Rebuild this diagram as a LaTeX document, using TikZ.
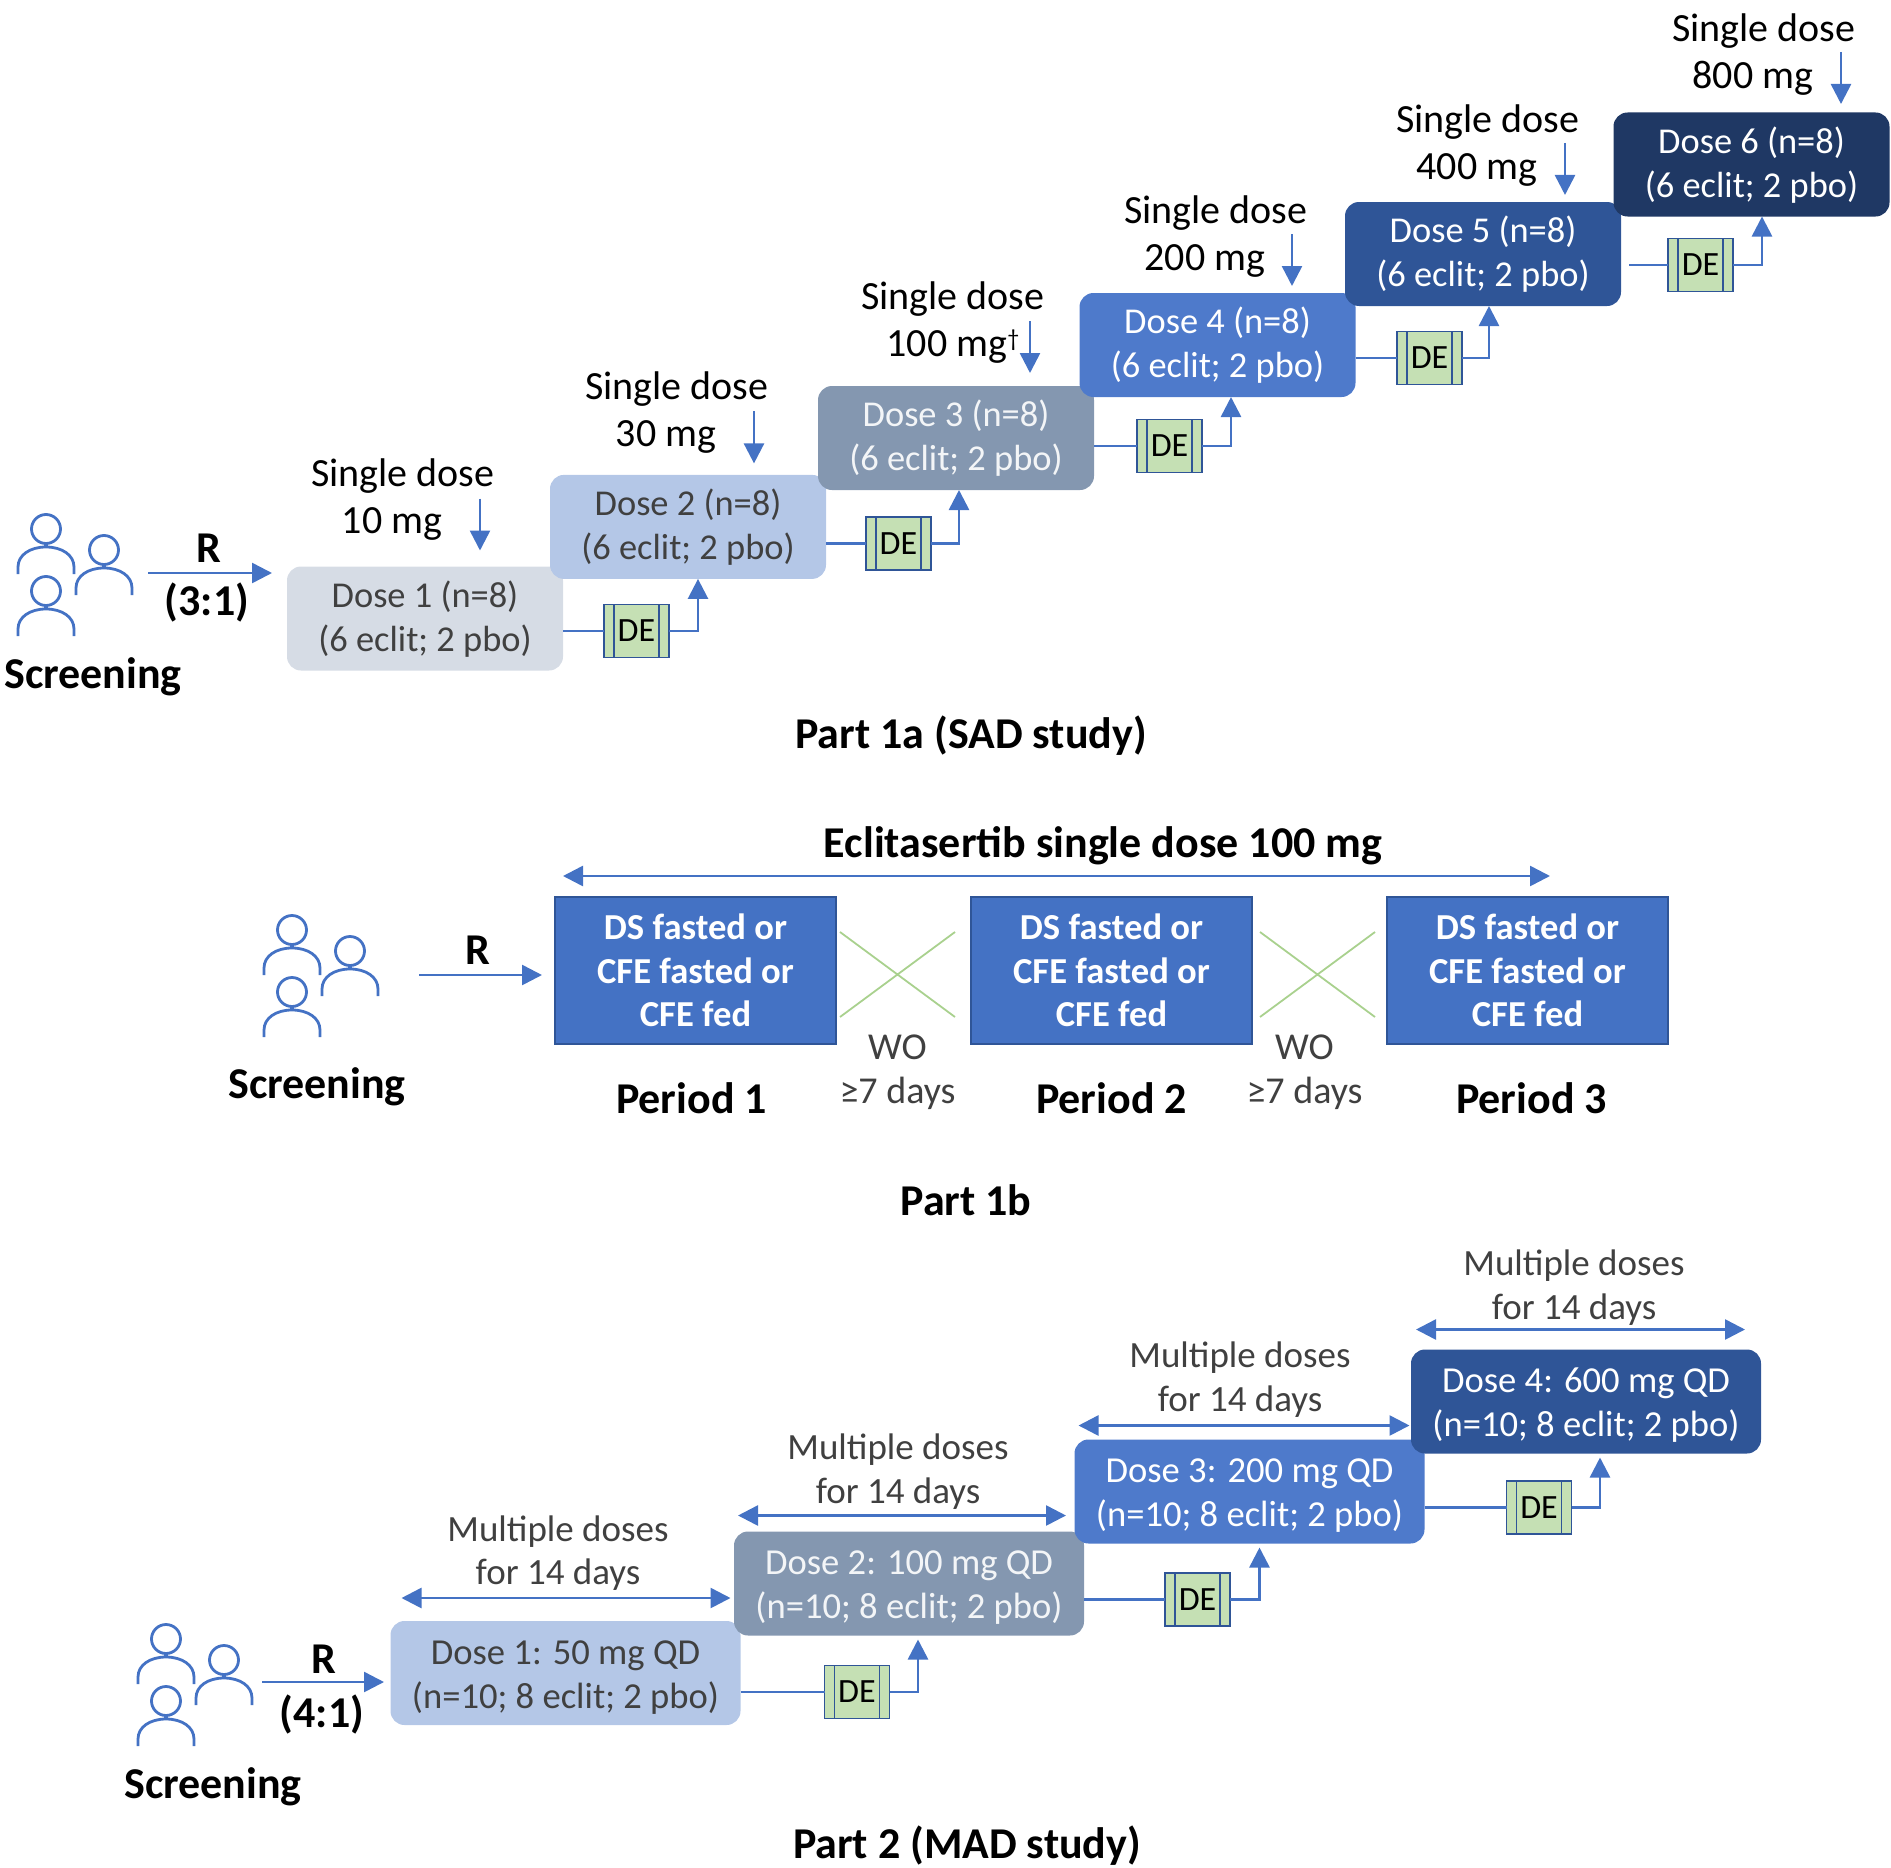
\documentclass[tikz,border=0pt]{standalone}
\usepackage{fontspec}
\setmainfont{Carlito}
\usepackage{tikz}
\usetikzlibrary{arrows.meta}
\usetikzlibrary{positioning}
\usetikzlibrary{shapes.misc}

\definecolor{lineblue}{HTML}{4472C4}
\definecolor{doseA}{HTML}{D6DCE5}
\definecolor{doseB}{HTML}{B4C7E7}
\definecolor{doseC}{HTML}{8497B0}
\definecolor{doseD}{HTML}{4E7ACB}
\definecolor{doseE}{HTML}{2F5597}
\definecolor{doseF}{HTML}{1F3864}
\definecolor{greyink}{HTML}{404040}
\definecolor{deboxfill}{HTML}{C5E0B4}
\definecolor{crossgreen}{HTML}{A9D18E}

\tikzset{
    dosebox/.style={rounded corners=7pt, outer sep=0pt, minimum width=138pt, minimum height=52pt,
        text height=32.9pt, text depth=0pt, align=center, font=\fontsize{18.2}{22}\selectfont},
    madbox/.style={dosebox, minimum width=175pt, text height=35.3pt, font=\fontsize{18.3}{22}\selectfont},
    periodbox/.style={draw=doseE, line width=.6pt, fill=lineblue, text=white, outer sep=0pt, minimum width=140.5pt,
        minimum height=73.5pt, align=center, font=\fontsize{18.3}{21.7}\bfseries\selectfont},
    debox/.style={draw=doseE, line width=.8pt, fill=deboxfill, outer sep=0pt, inner sep=0pt, minimum width=32.5pt,
        minimum height=26.5pt, font=\fontsize{17}{20}\selectfont,
        path picture={
            \draw[doseE, line width=.8pt] ([xshift=5pt]path picture bounding box.north west) -- ([xshift=5pt]path picture bounding box.south west);
            \draw[doseE, line width=.8pt] ([xshift=-5pt]path picture bounding box.north east) -- ([xshift=-5pt]path picture bounding box.south east);
        }},
    sdlabel/.style={inner sep=0pt, align=center, font=\fontsize{20}{23.5}\selectfont},
    mdlabel/.style={inner sep=0pt, align=center, text=greyink, font=\fontsize{18.5}{21.7}\selectfont},
    boldlabel/.style={inner sep=0pt, align=center, font=\fontsize{22}{24}\bfseries\selectfont},
    wolabel/.style={inner sep=0pt, align=center, text=greyink, font=\fontsize{19}{22}\selectfont},
    crossmark/.style={cross out, draw=crossgreen, line width=.9pt, inner sep=0pt, outer sep=0pt,
        minimum width=57.5pt, minimum height=42.5pt},
    flow/.style={draw=lineblue, line width=1.3pt},
    flowto/.style={flow, -{Triangle[length=10pt,width=10pt]}},
    flowboth/.style={flow, {Triangle[length=10pt,width=10pt]}-{Triangle[length=10pt,width=10pt]}},
    person/.pic={
        \draw[lineblue, line width=1.4pt] (0,0) circle [radius=7.25pt];
        \draw[lineblue, line width=1.4pt] (-28,45) -- (-28,38) .. controls (-28,26) and (-16,18) .. (0,18)
            .. controls (16,18) and (28,26) .. (28,38) -- (28,45);
        \draw[lineblue, line width=2pt] (0,14) -- (0,18);
    },
    people/.pic={
        \pic at (0,0) {person};
        \pic at (58,21) {person};
        \pic at (0,62) {person};
    },
}

\begin{document}
\begin{tikzpicture}[x=.5pt, y=-.5pt]
    \useasboundingbox (0,0) rectangle (1891,1868);

    % Part 1a
    \pic at (46,529) {people};
    \node (scra) [boldlabel] at (93,677) {Screening};
    \coordinate (rsa) at (148,573);
    \coordinate (rea) at (272,573);
    \draw[flowto] (rsa) -- (rea);
    \node (ra) [boldlabel] at (209,548) {R};
    \node (rra) [boldlabel] at (207,602) {(3:1)};

    \node (da) [dosebox, fill=doseA, text=greyink] at (425,618.5) {Dose 1 (n=8)\\(6 eclit; 2 pbo)};
    \node (db) [dosebox, fill=doseB, text=greyink, above right=-6.2pt and -6.5pt of da] {Dose 2 (n=8)\\(6 eclit; 2 pbo)};
    \node (dc) [dosebox, fill=doseC, text=white!90!doseC, above right=-7.55pt and -4pt of db] {Dose 3 (n=8)\\(6 eclit; 2 pbo)};
    \node (dd) [dosebox, fill=doseD, text=white, above right=-5.5pt and -7.25pt of dc] {Dose 4 (n=8)\\(6 eclit; 2 pbo)};
    \node (de) [dosebox, fill=doseE, text=white, above right=-6.5pt and -5.25pt of dd] {Dose 5 (n=8)\\(6 eclit; 2 pbo)};
    \node (df) [dosebox, fill=doseF, text=white, above right=-7.25pt and -3.75pt of de] {Dose 6 (n=8)\\(6 eclit; 2 pbo)};

    \node (sa) [sdlabel, above=12.8pt of da, xshift=-11pt] {Single dose\\10 mg\hspace*{11pt}};
    \node (sb) [sdlabel, above=10.8pt of db, xshift=-5.5pt] {Single dose\\30 mg\hspace*{11pt}};
    \node (sc) [sdlabel, above=11pt of dc, xshift=-1.5pt] {Single dose\\100 mg{\fontsize{12}{12}\selectfont\raisebox{5pt}{\textdagger}}};
    \node (sd) [sdlabel, above=7.8pt of dd, xshift=-.75pt] {Single dose\\200 mg\hspace*{11pt}};
    \node (se) [sdlabel, above=7.8pt of de, xshift=2.5pt] {Single dose\\400 mg\hspace*{11pt}};
    \node (sf) [sdlabel, above=8.4pt of df, xshift=6.25pt] {Single dose\\800 mg\hspace*{11pt}};

    \draw[flowto] ([xshift=27.5pt,yshift=34pt]da.north) -- ([xshift=27.5pt,yshift=8pt]da.north);
    \draw[flowto] ([xshift=33pt,yshift=31.75pt]db.north) -- ([xshift=33pt,yshift=5.75pt]db.north);
    \draw[flowto] ([xshift=37pt,yshift=32.5pt]dc.north) -- ([xshift=37pt,yshift=6.5pt]dc.north);
    \draw[flowto] ([xshift=37.25pt,yshift=29.5pt]dd.north) -- ([xshift=37.25pt,yshift=3.5pt]dd.north);
    \draw[flowto] ([xshift=41pt,yshift=29.5pt]de.north) -- ([xshift=41pt,yshift=3.5pt]de.north);
    \draw[flowto] ([xshift=44.75pt,yshift=30.25pt]df.north) -- ([xshift=44.75pt,yshift=4.25pt]df.north);

    \node (dea) [debox, right=20.5pt of da, yshift=-6.25pt] {DE};
    \node (deb) [debox, right=20pt of db, yshift=-8.25pt] {DE};
    \node (dec) [debox, right=21.5pt of dc, yshift=-4pt] {DE};
    \node (ded) [debox, right=20.75pt of dd, yshift=-6.5pt] {DE};
    \node (dee) [debox, right=23.5pt of de, yshift=-5.5pt] {DE};

    \draw[flow] (da.east |- dea) -- (dea);
    \draw[flowto] (dea) -| ([xshift=5pt]db.south);
    \draw[flow] (db.east |- deb) -- (deb);
    \draw[flowto] (deb) -| ([xshift=1.5pt]dc.south);
    \draw[flow] (dc.east |- dec) -- (dec);
    \draw[flowto] (dec) -| ([xshift=6.75pt]dd.south);
    \draw[flow] (dd.east |- ded) -- (ded);
    \draw[flowto] (ded) -| ([xshift=3pt]de.south);
    \draw[flow, shorten <=4pt] (de.east |- dee) -- (dee);
    \draw[flowto] (dee) -| ([xshift=5.25pt]df.south);

    \node (parta) [boldlabel] at (971,736) {Part 1a (SAD study)};

    % Part 1b
    \node (ecl) [boldlabel] at (1103,846) {Eclitasertib single dose 100 mg};
    \pic at (292,930) {people};
    \node (scrb) [boldlabel] at (317,1087) {Screening};
    \coordinate (rsb) at (419,975);
    \coordinate (reb) at (542,975);
    \draw[flowto] (rsb) -- (reb);
    \node (rb) [boldlabel] at (478,950) {R};

    \node (pa) [periodbox] at (695.5,970.5) {DS fasted or\\CFE fasted or\\CFE fed};
    \node (pb) [periodbox, right=67.5pt of pa] {DS fasted or\\CFE fasted or\\CFE fed};
    \node (pc) [periodbox, right=67.5pt of pb] {DS fasted or\\CFE fasted or\\CFE fed};
    \draw[flowboth] ([xshift=4pt,yshift=10.5pt]pa.north west) -- ([xshift=81.5pt,yshift=10.5pt]pc.north west);

    \node (xa) [crossmark, right=2pt of pa, yshift=-2pt] {};
    \node (xb) [crossmark, right=4pt of pb, yshift=-2pt] {};
    \node (woa) [wolabel, below=8.8pt of xa] {WO\\≥7 days};
    \node (wob) [wolabel, below=8.8pt of xb, xshift=-6.5pt] {WO\\≥7 days};

    \node (lpa) [boldlabel, below=19pt of pa, xshift=-2pt] {Period 1};
    \node (lpb) [boldlabel, below=19pt of pb] {Period 2};
    \node (lpc) [boldlabel, below=19pt of pc, xshift=2pt] {Period 3};
    \node (partb) [boldlabel] at (966,1200) {Part 1b};

    % Part 2
    \pic at (166,1639) {people};
    \node (scrc) [boldlabel] at (213,1787) {Screening};
    \coordinate (rsc) at (262,1682);
    \coordinate (rec) at (384,1682);
    \draw[flowto] (rsc) -- (rec);
    \node (rc) [boldlabel] at (324,1659) {R};
    \node (rrc) [boldlabel] at (322,1714) {(4:1)};

    \node (ma) [madbox, fill=doseB, text=greyink] at (565.5,1673) {Dose 1: 50 mg QD\\(n=10; 8 eclit; 2 pbo)};
    \node (mb) [madbox, fill=doseC, text=white!90!doseC, above right=-7.25pt and -3.25pt of ma] {Dose 2: 100 mg QD\\(n=10; 8 eclit; 2 pbo)};
    \node (mc) [madbox, fill=doseD, text=white, above right=-6pt and -4.75pt of mb] {Dose 3: 200 mg QD\\(n=10; 8 eclit; 2 pbo)};
    \node (md) [madbox, fill=doseE, text=white, above right=-7pt and -6.75pt of mc] {Dose 4: 600 mg QD\\(n=10; 8 eclit; 2 pbo)};

    \draw[flowboth] ([xshift=5.5pt,yshift=11.5pt]ma.north west) -- ([xshift=-5pt,yshift=11.5pt]ma.north east);
    \draw[flowboth] ([xshift=2pt,yshift=8pt]mb.north west) -- ([xshift=-9pt,yshift=8pt]mb.north east);
    \draw[flowboth] ([xshift=2pt,yshift=7pt]mc.north west) -- ([xshift=-7.5pt,yshift=7pt]mc.north east);
    \draw[flowboth] ([xshift=2.5pt,yshift=10pt]md.north west) -- ([xshift=-8pt,yshift=10pt]md.north east);

    \node (ta) [mdlabel, above=15pt of ma, xshift=-3.75pt] {Multiple doses\\for 14 days};
    \node (tb) [mdlabel, above=11pt of mb, xshift=-5.5pt] {Multiple doses\\for 14 days};
    \node (tc) [mdlabel, above=11pt of mc, xshift=-4.75pt] {Multiple doses\\for 14 days};
    \node (td) [mdlabel, above=12pt of md, xshift=-6pt] {Multiple doses\\for 14 days};

    \node (dma) [debox, right=42pt of ma, yshift=-9.5pt] {DE};
    \node (dmb) [debox, right=40.5pt of mb, yshift=-8pt] {DE};
    \node (dmc) [debox, right=41pt of mc, yshift=-8pt] {DE};

    \draw[flow] (ma.east |- dma) -- (dma);
    \draw[flowto, shorten >=2pt] (dma) -| ([xshift=4.5pt]mb.south);
    \draw[flow] (mb.east |- dmb) -- (dmb);
    \draw[flowto, shorten >=2pt] (dmb) -| ([xshift=5pt]mc.south);
    \draw[flow] (mc.east |- dmc) -- (dmc);
    \draw[flowto, shorten >=2pt] (dmc) -| ([xshift=7pt]md.south);

    \node (partc) [boldlabel] at (967,1846) {Part 2 (MAD study)};
\end{tikzpicture}
\end{document}
